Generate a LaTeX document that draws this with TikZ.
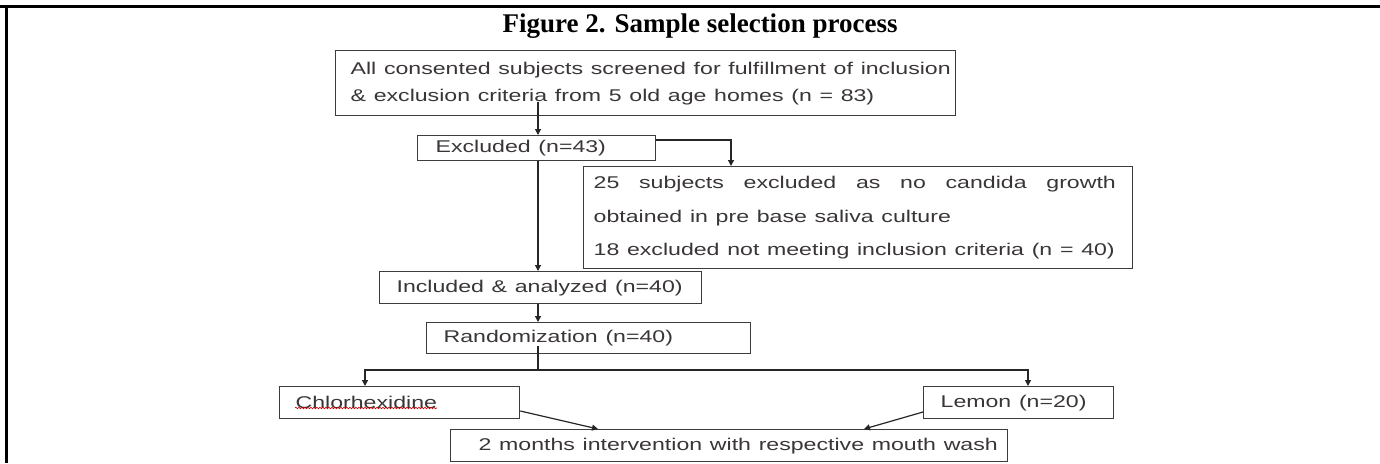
\documentclass[tikz,border=0pt]{standalone}
\usepackage{fontspec}
\setmainfont{Liberation Serif}
\newfontfamily\arialf{Liberation Sans}
\usetikzlibrary{arrows.meta,decorations.pathmorphing}
\newcommand{\sx}[1]{\scalebox{1.36}[1]{#1}}
\definecolor{txt}{HTML}{3A3636}
\definecolor{edge}{HTML}{3C3C3C}
\begin{document}
\begin{tikzpicture}[x=1pt,y=-1pt,
  box/.style={draw=edge,line width=1.3pt,anchor=north west,inner ysep=0pt,
    font=\arialf\fontsize{17}{20}\selectfont,text=txt,align=left},
  conn/.style={draw=black!85,line width=1.2pt,-{Triangle[length=6pt,width=6pt]}},
  ln/.style={draw=black!85,line width=1.2pt}]
\useasboundingbox (0,0) rectangle (1380,463);
\fill[white] (0,0) rectangle (1380,463);
\draw[line width=2.2pt] (0,6.5) -- (1380,6.5);
\draw[line width=2.2pt] (6.5,6.5) -- (6.5,463);
\node[font=\bfseries\fontsize{27}{30}\selectfont,anchor=base,inner sep=0pt] (title) at (700,32) {Figure 2. Sample selection process};

\node[box,inner xsep=15pt,text width=590pt,minimum height=65pt,
  font=\arialf\fontsize{17}{27}\selectfont] (b1) at (335,50)
  {\sx{All consented subjects screened for fulfillment of inclusion}\\
   \sx{\& exclusion criteria from 5 old age homes (n = 83)}};
\node[box,inner xsep=18pt,text width=202pt,minimum height=25pt] (ex) at (417,135)
  {\sx{Excluded (n=43)}};
\node[box,inner xsep=10pt,text width=529pt,minimum height=102pt,
  font=\arialf\fontsize{17}{33.5}\selectfont] (ec) at (583,166)
  {\sx{\hbox to 384pt{25\hfill subjects\hfill excluded\hfill as\hfill no\hfill candida\hfill growth}}\\
   \sx{obtained in pre base saliva culture}\\
   \sx{18 excluded not meeting inclusion criteria (n = 40)}};
\node[box,inner xsep=17pt,text width=288pt,minimum height=32pt] (inc) at (379,271)
  {\sx{Included \& analyzed (n=40)}};
\node[box,inner xsep=17pt,text width=290pt,minimum height=31pt] (rnd) at (426,322)
  {\sx{Randomization (n=40)}};
\node[box,inner xsep=16pt,text width=208pt,minimum height=32pt] (chl) at (279,386)
  {\sx{Chlorhexidine}};
\node[box,inner xsep=17pt,text width=156pt,minimum height=32pt] (lem) at (923,386)
  {\sx{Lemon (n=20)}};
\node[box,inner xsep=28pt,text width=501pt,minimum height=32pt] (bt) at (450,429)
  {\sx{2 months intervention with respective mouth wash}};

\draw[red!80!black,line width=0.6pt,decorate,
  decoration={snake,amplitude=0.8pt,segment length=3pt}] (295,408) -- (437,408);

\coordinate (sp) at (538,0);
\coordinate (ecin) at ([xshift=148pt]ec.north west);
\coordinate (jn) at (538,370);
\coordinate (chlin) at ([xshift=86pt]chl.north west);
\coordinate (lemin) at ([xshift=105pt]lem.north west);

\draw[conn] ([yshift=14pt]b1.south -| sp) -- (ex.north -| sp);
\draw[conn] ([yshift=-5pt]ex.north east) -| (ecin);
\draw[conn] (ex.south -| sp) -- (inc.north -| sp);
\draw[conn] (inc.south -| sp) -- (rnd.north -| sp);
\draw[ln] ([yshift=8pt]rnd.south -| sp) -- (jn);
\draw[conn] (jn) -| (chlin);
\draw[conn] (jn) -| (lemin);
\draw[conn] ([yshift=-25pt]chl.north east) -- ([xshift=148pt]bt.north west);
\draw[conn] ([yshift=-26pt]lem.north west) -- ([xshift=414pt]bt.north west);
\end{tikzpicture}
\end{document}
